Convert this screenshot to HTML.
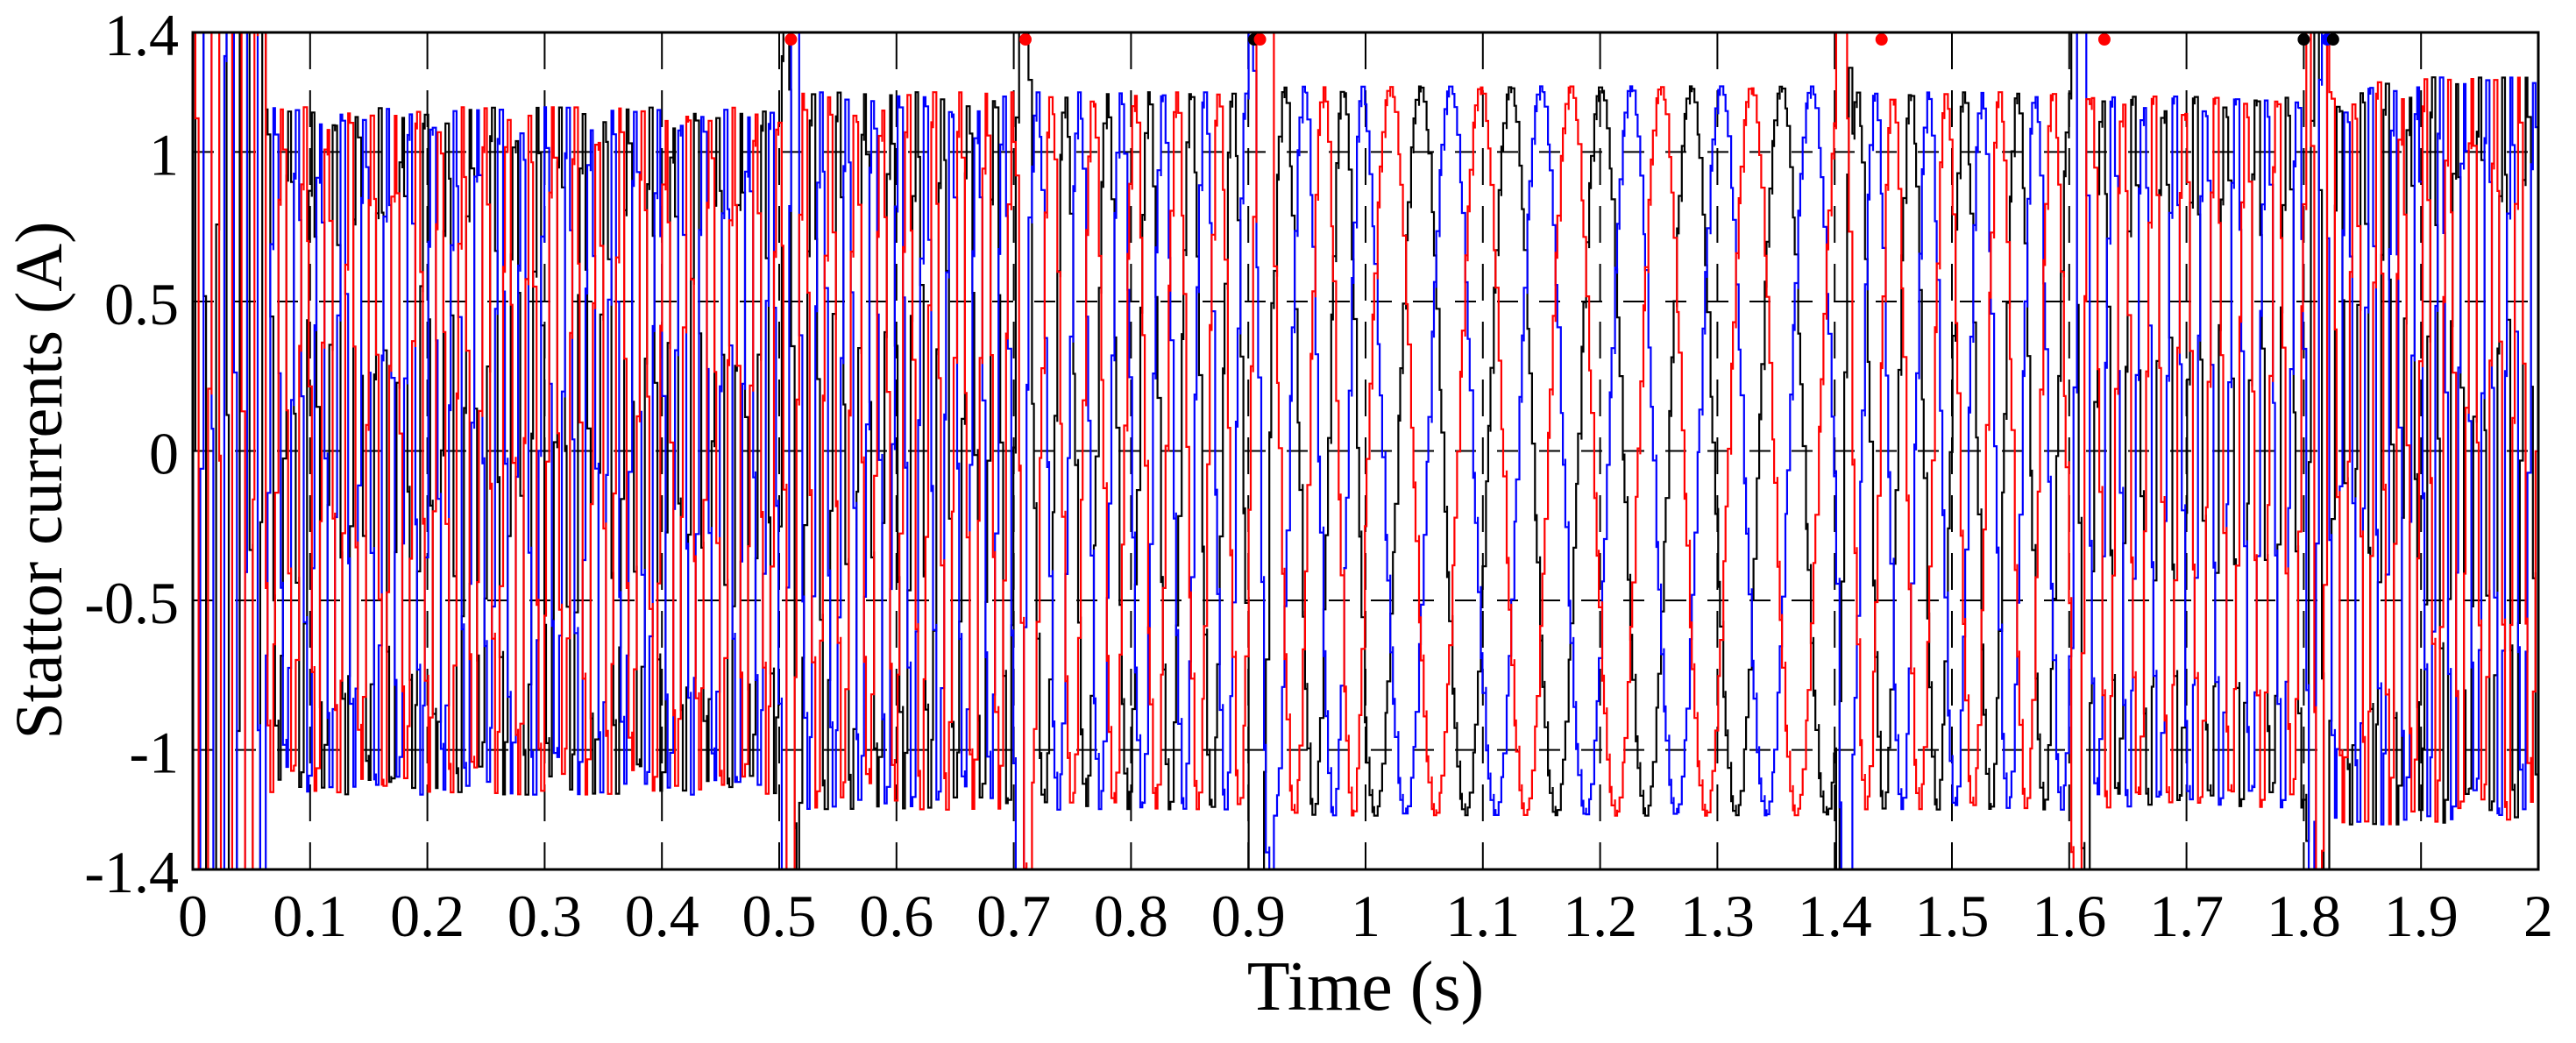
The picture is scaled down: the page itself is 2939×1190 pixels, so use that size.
<!DOCTYPE html>
<html><head><meta charset="utf-8"><style>
html,body{margin:0;padding:0;background:#fff;}
svg{display:block;}
text{font-family:"Liberation Serif",serif;fill:#000;}
</style></head><body>
<svg id="chart" width="2939" height="1190" viewBox="0 0 2939 1190" xmlns="http://www.w3.org/2000/svg">
<defs><clipPath id="pc"><rect x="220" y="37" width="2676" height="955"/></clipPath></defs>
<rect x="0" y="0" width="2939" height="1190" fill="#fff"/>
<g id="grid"></g>
<g id="series" clip-path="url(#pc)"></g>
<g id="marks"></g>
<rect x="220" y="37" width="2676" height="955" fill="none" stroke="#000" stroke-width="3"/>
<g id="xt"></g>
<g id="yt"></g>
<text x="1558" y="1152" font-size="80" text-anchor="middle">Time (s)</text>
<text x="0" y="0" font-size="76" text-anchor="middle" transform="translate(70,548) rotate(-90)">Stattor currents (A)</text>
</svg>
<script>
const xTicks = [0,0.1,0.2,0.3,0.4,0.5,0.6,0.7,0.8,0.9,1,1.1,1.2,1.3,1.4,1.5,1.6,1.7,1.8,1.9,2];
const xTickLabels = ["0","0.1","0.2","0.3","0.4","0.5","0.6","0.7","0.8","0.9","1","1.1","1.2","1.3","1.4","1.5","1.6","1.7","1.8","1.9","2"];
const yTicks = [1.4,1,0.5,0,-0.5,-1,-1.4];
const yTickLabels = ["1.4","1","0.5","0","-0.5","-1","-1.4"];
const segStart = [0,0.5,0.7,0.9,1.0,1.4,1.6,1.8];
const segFreq = [52,45,28,20,13,22,38,50];
const segAmp = [1.15,1.2,1.2,1.22,1.22,1.2,1.2,1.25];
const burstTime = [0,0.5,0.7,0.9,1.4,1.6,1.8];
const burstLen = [0.06,0.015,0.015,0.02,0.015,0.015,0.02];
const burstGain = [3,1.7,1.7,1.7,1.7,1.7,1.7];
const phaseNames = ["black","blue","red"];
const phaseColors = ["#000","#0000ff","#ff0000"];
const phaseShift = [0,-2.0944,2.0944];
const markerT = [0.51,0.71,0.905,0.91,1.44,1.63,1.80,1.82,1.825];
const markerC = ["#ff0000","#ff0000","#000","#ff0000","#ff0000","#ff0000","#000","#0000ff","#000"];

const X0=220,X1=2896,Y0=37,Y1=992;
const xs=t=>X0+(t-0)/(2-0)*(X1-X0);
const ys=v=>Y1-(v+1.4)/2.8*(Y1-Y0);
const NS="http://www.w3.org/2000/svg";
function mk(tag,attrs,parent){const e=document.createElementNS(NS,tag);for(const k in attrs)e.setAttribute(k,attrs[k]);parent.appendChild(e);return e;}

const grid=document.getElementById('grid');
yTicks.forEach((v,i)=>{
  if(Math.abs(v)>=1.4) return;
  const l=mk('line',{x1:X0,x2:X1,y1:ys(v),y2:ys(v),stroke:'#000','stroke-width':2,'stroke-dasharray':'24,24'},grid);
  
  
});
xTicks.forEach((t,i)=>{
  if(t<=0||t>=2) return;
  const l=mk('line',{x1:xs(t),x2:xs(t),y1:Y0,y2:Y1,stroke:'#000','stroke-width':2,'stroke-dasharray':'42,24'},grid);
  
  
});

function segIndex(t){let k=0;for(let i=0;i<segStart.length;i++) if(t>=segStart[i]) k=i;return k;}
function gainAt(t){let g=1;for(let i=0;i<burstTime.length;i++){if(t>=burstTime[i]&&t<burstTime[i]+burstLen[i]) g=Math.max(g,burstGain[i]);}return g;}

const dtBase=0.0022;
const ser=document.getElementById('series');
[0,1,2].forEach(p=>{
  let th=0,d='',t=0,first=true,n=0;
  while(t<=2+1e-9){
    const dt=dtBase*(1+0.35*Math.sin(n*2.39));
    const k=segIndex(t);
    const v=segAmp[k]*gainAt(t)*Math.sin(th+phaseShift[p]);
    const vc=Math.max(-1.5,Math.min(1.5,v));
    const x=xs(t).toFixed(1),y=ys(vc).toFixed(1);
    if(first){d+='M'+x+','+y;first=false;}else{d+='L'+x+','+y;}
    const x2=xs(Math.min(2,t+dt)).toFixed(1);
    const y2=ys(vc-0.02*Math.sign(vc)).toFixed(1);
    d+='L'+x2+','+y+'L'+x2+','+y2;
    th+=2*Math.PI*segFreq[k]*dt;
    t+=dt;n++;
  }
  const path=mk('path',{d:d,fill:'none',stroke:phaseColors[p],'stroke-width':2.2},ser);
  
  
});

const marks=document.getElementById('marks');
markerT.forEach((t,i)=>{
  const c=mk('circle',{cx:xs(t),cy:Y0+8,r:7,fill:markerC[i]},marks);
  
  
});

const xt=document.getElementById('xt');
xTicks.forEach((t,i)=>{
  const e=mk('text',{x:xs(t),y:1068,'font-size':68,'text-anchor':'middle'},xt);
  e.textContent=xTickLabels[i];
  
  
});
const yt=document.getElementById('yt');
yTicks.forEach((v,i)=>{
  const e=mk('text',{x:204,y:ys(v)+26,'font-size':68,'text-anchor':'end'},yt);
  e.textContent=yTickLabels[i];
  
  
});
</script>
</body></html>
